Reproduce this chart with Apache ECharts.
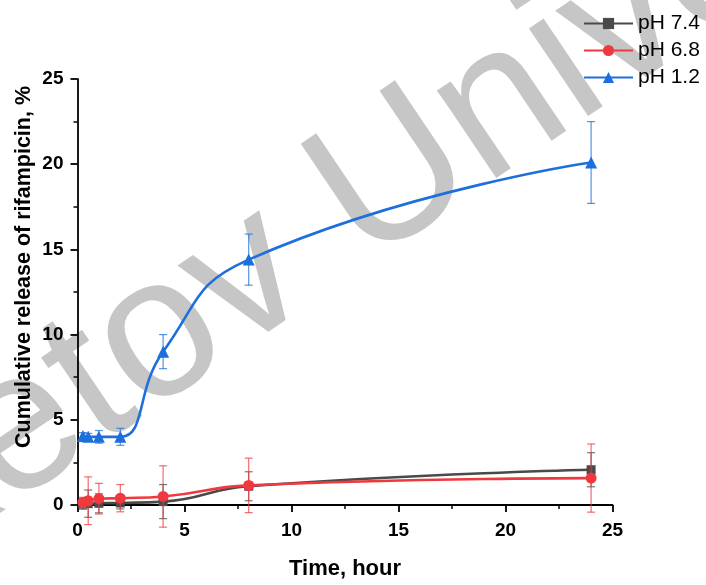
<!DOCTYPE html>
<html>
<head>
<meta charset="utf-8">
<script src="https://cdn.jsdelivr.net/npm/echarts@6/dist/echarts.min.js"></script>
<style>html,body{margin:0;padding:0;background:#fff}#c{width:706px;height:585px}</style>
</head>
<body>
<div id="c"></div>
<script>
const times = [0.25, 0.5, 1, 2, 4, 8, 24];
const ph74 = [0.05, 0.08, 0.1, 0.12, 0.2, 1.1, 2.07];
const ph74Err = [0.3, 0.8, 0.56, 0.35, 1.0, 0.85, 1.0];
const ph68 = [0.15, 0.25, 0.37, 0.4, 0.5, 1.15, 1.58];
const ph68Err = [0.3, 1.4, 0.9, 0.8, 1.8, 1.6, 2.0];
const ph12 = [4.05, 4.0, 4.0, 4.0, 9.0, 14.4, 20.1];
const ph12Err = [0.2, 0.2, 0.37, 0.5, 1.0, 1.5, 2.4];
const seriesNames = ['pH 7.4', 'pH 6.8', 'pH 1.2'];
const xTicks = [0, 5, 10, 15, 20, 25];
const yTicks = [0, 5, 10, 15, 20, 25];

const FONT = '"Liberation Sans", Arial, sans-serif';
const colors = ['#4a4a4a', '#f0393f', '#1c6fdc'];
const errColors = ['rgba(74,74,74,0.75)', 'rgba(240,57,63,0.75)', 'rgba(28,111,220,0.75)'];
const symbols = ['rect', 'circle', 'triangle'];
const symSizes = [9, 11, 12];
const vals = [ph74, ph68, ph12];
const errs = [ph74Err, ph68Err, ph12Err];

function errSeries(k) {
  return {
    type: 'custom',
    name: seriesNames[k] + ' err',
    clip: false,
    z: 3 + k * 2,
    data: times.map((t, i) => [t, vals[k][i] - errs[k][i], vals[k][i] + errs[k][i]]),
    encode: { x: 0, y: [1, 2] },
    renderItem: function (params, api) {
      const x = api.value(0);
      const top = api.coord([x, api.value(2)]);
      const bot = api.coord([x, api.value(1)]);
      const w = 4;
      const st = { stroke: errColors[k], lineWidth: 1.2 };
      return {
        type: 'group',
        children: [
          { type: 'line', shape: { x1: top[0], y1: top[1], x2: bot[0], y2: bot[1] }, style: st },
          { type: 'line', shape: { x1: top[0] - w, y1: top[1], x2: top[0] + w, y2: top[1] }, style: st },
          { type: 'line', shape: { x1: bot[0] - w, y1: bot[1], x2: bot[0] + w, y2: bot[1] }, style: st }
        ]
      };
    }
  };
}
function lineSeries(k) {
  return {
    type: 'line',
    name: seriesNames[k],
    z: 2 + k * 2,
    smooth: 0.5,
    symbol: symbols[k],
    symbolSize: symSizes[k],
    showAllSymbol: true,
    clip: false,
    lineStyle: { color: colors[k], width: 2.6 },
    itemStyle: { color: colors[k] },
    data: times.map((t, i) => [t, vals[k][i]])
  };
}

const chart = echarts.init(document.getElementById('c'), null, { renderer: 'canvas' });
chart.setOption({
  animation: false,
  backgroundColor: '#fff',
  graphic: [
    {
      type: 'text', z: -10, zlevel: 0, silent: true,
      x: -311, y: 656, rotation: 34 * Math.PI / 180,
      style: { text: 'Buketov University', fill: '#c6c6c6', font: '200px ' + FONT, textAlign: 'left', textVerticalAlign: 'middle' }
    },
    {
      type: 'text', z: 10,
      x: 24, y: 267, rotation: Math.PI / 2,
      style: { text: 'Cumulative release of rifampicin, %', fill: '#000', font: 'bold 21.5px ' + FONT, textAlign: 'center', textVerticalAlign: 'middle' }
    }
  ],
  grid: { left: 77.5, right: 93.5, top: 79, bottom: 75, containLabel: false },
  legend: {
    orient: 'vertical', left: 578, top: 8,
    itemWidth: 49, itemHeight: 14, itemGap: 6,
    data: seriesNames,
    textStyle: { fontFamily: FONT, fontSize: 21, lineHeight: 21, color: '#000' }
  },
  xAxis: {
    type: 'value', min: 0, max: 25, interval: 5,
    name: 'Time, hour', nameLocation: 'middle', nameGap: 53,
    nameTextStyle: { fontFamily: FONT, fontSize: 22, fontWeight: 'bold', color: '#000' },
    axisLine: { onZero: false, lineStyle: { color: '#000', width: 1.8 } },
    axisTick: { show: true, length: 7, lineStyle: { color: '#000', width: 1.8 } },
    minorTick: { show: true, splitNumber: 2, length: 4, lineStyle: { color: '#000', width: 1.5 } },
    splitLine: { show: false },
    axisLabel: { fontFamily: FONT, fontSize: 19, fontWeight: 'bold', color: '#000', margin: 16,
      formatter: v => xTicks.includes(v) ? String(v) : '' }
  },
  yAxis: {
    type: 'value', min: 0, max: 25, interval: 5,
    axisLine: { show: true, lineStyle: { color: '#000', width: 1.8 } },
    axisTick: { show: true, length: 7, lineStyle: { color: '#000', width: 1.8 } },
    minorTick: { show: true, splitNumber: 2, length: 4, lineStyle: { color: '#000', width: 1.5 } },
    splitLine: { show: false },
    axisLabel: { fontFamily: FONT, fontSize: 19, fontWeight: 'bold', color: '#000', margin: 14,
      formatter: v => yTicks.includes(v) ? String(v) : '' }
  },
  series: [lineSeries(0), errSeries(0), lineSeries(1), errSeries(1), lineSeries(2), errSeries(2)]
});
</script>
</body>
</html>
